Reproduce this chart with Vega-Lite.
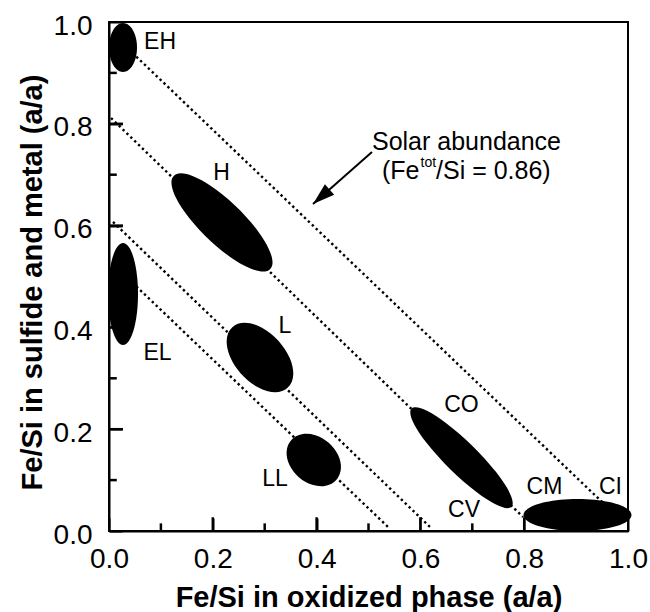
{
  "$schema": "https://vega.github.io/schema/vega-lite/v6.json",
  "width": 519,
  "height": 509,
  "autosize": {"type": "none"},
  "padding": {"left": 109, "top": 22, "right": 22, "bottom": 81},
  "background": "white",
  "config": {"view": {"stroke": "black", "strokeWidth": 2}, "font": "Liberation Sans"},
  "resolve": {"axis": {"x": "independent", "y": "independent"}},
  "layer": [
    {
      "data": {"values": [
        {"line": "solar", "x": 0.03, "y": 0.954},
        {"line": "solar", "x": 0.95, "y": 0.057},
        {"line": "mid", "x": 0.0039, "y": 0.8114},
        {"line": "mid", "x": 0.7977, "y": 0.0275},
        {"line": "L", "x": 0.0077, "y": 0.6071},
        {"line": "L", "x": 0.6185, "y": 0.0079},
        {"line": "LL", "x": 0.03, "y": 0.5026},
        {"line": "LL", "x": 0.5376, "y": 0.0079}
      ]},
      "mark": {"type": "line", "color": "black", "strokeWidth": 2.4, "strokeDash": [2.4, 3]},
      "encoding": {
        "x": {"field": "x", "type": "quantitative", "scale": {"domain": [0, 1], "nice": false, "zero": false},
          "axis": {"orient": "bottom", "values": [0, 0.2, 0.4, 0.6, 0.8, 1], "format": ".1f", "title": "Fe/Si in oxidized phase (a/a)", "grid": false, "ticks": true, "tickSize": -13, "tickWidth": 2, "tickColor": "black", "domainColor": "black", "domainWidth": 2, "labelFontSize": 28, "labelColor": "black", "labelPadding": 27, "labelFlush": false, "labelOverlap": false, "titleFontSize": 29, "titleFontWeight": "bold", "titleColor": "black", "titlePadding": 10, "labelFont": "Liberation Sans", "titleFont": "Liberation Sans"}},
        "y": {"field": "y", "type": "quantitative", "scale": {"domain": [0, 1], "nice": false, "zero": false},
          "axis": {"orient": "left", "values": [0, 0.2, 0.4, 0.6, 0.8, 1], "format": ".1f", "title": "Fe/Si in sulfide and metal (a/a)", "grid": false, "ticks": true, "tickSize": -13, "tickWidth": 2, "tickColor": "black", "domainColor": "black", "domainWidth": 2, "labelFontSize": 28, "labelColor": "black", "labelPadding": 30, "labelOffset": 4, "labelFlush": false, "labelOverlap": false, "titleFontSize": 29, "titleFontWeight": "bold", "titleColor": "black", "titlePadding": 6, "titleY": 260, "labelFont": "Liberation Sans", "titleFont": "Liberation Sans"}},
        "detail": {"field": "line"}
      }
    },
    {
      "data": {"values": [{"v": 0.2}, {"v": 0.4}, {"v": 0.6}, {"v": 0.8}]},
      "mark": {"type": "rule", "color": "black", "strokeWidth": 2.5},
      "encoding": {
        "x": {"field": "v", "type": "quantitative", "axis": null},
        "y": {"datum": 0, "type": "quantitative", "axis": null},
        "y2": {"datum": 0.027}
      }
    },
    {
      "data": {"values": [{"v": 0.1}, {"v": 0.3}, {"v": 0.5}, {"v": 0.7}, {"v": 0.9}]},
      "mark": {"type": "rule", "color": "black", "strokeWidth": 2.5},
      "encoding": {
        "x": {"field": "v", "type": "quantitative", "axis": null},
        "y": {"datum": 0, "type": "quantitative", "axis": null},
        "y2": {"datum": 0.015}
      }
    },
    {
      "data": {"values": [{"v": 0.2}, {"v": 0.4}, {"v": 0.6}, {"v": 0.8}]},
      "mark": {"type": "rule", "color": "black", "strokeWidth": 2.5},
      "encoding": {
        "y": {"field": "v", "type": "quantitative", "axis": null},
        "x": {"datum": 0, "type": "quantitative", "axis": null},
        "x2": {"datum": 0.027}
      }
    },
    {
      "data": {"values": [{"v": 0.1}, {"v": 0.3}, {"v": 0.5}, {"v": 0.7}, {"v": 0.9}]},
      "mark": {"type": "rule", "color": "black", "strokeWidth": 2.5},
      "encoding": {
        "y": {"field": "v", "type": "quantitative", "axis": null},
        "x": {"datum": 0, "type": "quantitative", "axis": null},
        "x2": {"datum": 0.015}
      }
    },
    {
      "data": {"values": [
        {"name": "EH", "x": 0.027, "y": 0.9499},
        {"name": "H", "x": 0.2177, "y": 0.6061},
        {"name": "EL", "x": 0.027, "y": 0.4656},
        {"name": "L", "x": 0.2909, "y": 0.3409},
        {"name": "LL", "x": 0.3946, "y": 0.1395},
        {"name": "CO-CV", "x": 0.6792, "y": 0.144},
        {"name": "CM-CI", "x": 0.9027, "y": 0.0314}
      ]},
      "mark": {"type": "point", "filled": true, "size": 4, "color": "black", "opacity": 1, "strokeWidth": 0},
      "encoding": {
        "x": {"field": "x", "type": "quantitative", "axis": null},
        "y": {"field": "y", "type": "quantitative", "axis": null},
        "shape": {"field": "name", "type": "nominal", "legend": null,
          "scale": {"domain": ["EH", "H", "EL", "L", "LL", "CO-CV", "CM-CI"],
            "range": [
              "M 14 0 A 14 24.5 0 1 1 -14 0 A 14 24.5 0 1 1 14 0 Z",
              "M 48.19 46.54 A 67 21 44 1 1 -48.19 -46.54 A 67 21 44 1 1 48.19 46.54 Z",
              "M 15 0 A 15 51 0 1 1 -15 0 A 15 51 0 1 1 15 0 Z",
              "M 27.59 30.32 A 41 24.5 47.7 1 1 -27.59 -30.32 A 41 24.5 47.7 1 1 27.59 30.32 Z",
              "M 22.64 19.68 A 30 22.5 41 1 1 -22.64 -19.68 A 30 22.5 41 1 1 22.64 19.68 Z",
              "M 49.93 49.06 A 70 16 44.5 1 1 -49.93 -49.06 A 70 16 44.5 1 1 49.93 49.06 Z",
              "M 54 0 A 54 16 0 1 1 -54 0 A 54 16 0 1 1 54 0 Z"
            ]}}
      }
    },
    {
      "data": {"values": [{"x": 0.5067, "y": 0.7446, "x2": 0.3931, "y2": 0.6424}]},
      "mark": {"type": "rule", "color": "black", "strokeWidth": 2},
      "encoding": {
        "x": {"field": "x", "type": "quantitative", "axis": null},
        "y": {"field": "y", "type": "quantitative", "axis": null},
        "x2": {"field": "x2"},
        "y2": {"field": "y2"}
      }
    },
    {
      "data": {"values": [{"x": 0.3931, "y": 0.6424}]},
      "mark": {"type": "point", "shape": "M 0 0 L 7 22 L -7 22 Z", "size": 4, "angle": 228.6, "filled": true, "color": "black", "opacity": 1, "strokeWidth": 0},
      "encoding": {
        "x": {"field": "x", "type": "quantitative", "axis": null},
        "y": {"field": "y", "type": "quantitative", "axis": null}
      }
    },
    {
      "data": {"values": [
        {"label": "EH", "x": 0.0983, "y": 0.9607},
        {"label": "H", "x": 0.2168, "y": 0.7024},
        {"label": "EL", "x": 0.0934, "y": 0.3497},
        {"label": "L", "x": 0.3391, "y": 0.4037},
        {"label": "LL", "x": 0.3198, "y": 0.1022},
        {"label": "CO", "x": 0.6792, "y": 0.2485},
        {"label": "CV", "x": 0.684, "y": 0.0413},
        {"label": "CM", "x": 0.8391, "y": 0.0855},
        {"label": "CI", "x": 0.9663, "y": 0.0855}
      ]},
      "mark": {"type": "text", "fontSize": 23, "font": "Liberation Sans", "color": "black", "align": "center", "baseline": "middle"},
      "encoding": {
        "x": {"field": "x", "type": "quantitative", "axis": null},
        "y": {"field": "y", "type": "quantitative", "axis": null},
        "text": {"field": "label"}
      }
    },
    {
      "data": {"values": [{"t": "Solar abundance", "x": 0.6888, "y": 0.7633}]},
      "mark": {"type": "text", "fontSize": 25, "font": "Liberation Sans", "color": "black", "align": "center", "baseline": "middle"},
      "encoding": {
        "x": {"field": "x", "type": "quantitative", "axis": null},
        "y": {"field": "y", "type": "quantitative", "axis": null},
        "text": {"field": "t"}
      }
    },
    {
      "data": {"values": [{"t": "(Fe", "x": 0.5983, "y": 0.7073}]},
      "mark": {"type": "text", "fontSize": 25, "font": "Liberation Sans", "color": "black", "align": "right", "baseline": "middle"},
      "encoding": {
        "x": {"field": "x", "type": "quantitative", "axis": null},
        "y": {"field": "y", "type": "quantitative", "axis": null},
        "text": {"field": "t"}
      }
    },
    {
      "data": {"values": [{"t": "tot", "x": 0.6002, "y": 0.723}]},
      "mark": {"type": "text", "fontSize": 14, "font": "Liberation Sans", "color": "black", "align": "left", "baseline": "middle"},
      "encoding": {
        "x": {"field": "x", "type": "quantitative", "axis": null},
        "y": {"field": "y", "type": "quantitative", "axis": null},
        "text": {"field": "t"}
      }
    },
    {
      "data": {"values": [{"t": "/Si = 0.86)", "x": 0.6301, "y": 0.7073}]},
      "mark": {"type": "text", "fontSize": 25, "font": "Liberation Sans", "color": "black", "align": "left", "baseline": "middle"},
      "encoding": {
        "x": {"field": "x", "type": "quantitative", "axis": null},
        "y": {"field": "y", "type": "quantitative", "axis": null},
        "text": {"field": "t"}
      }
    }
  ]
}
